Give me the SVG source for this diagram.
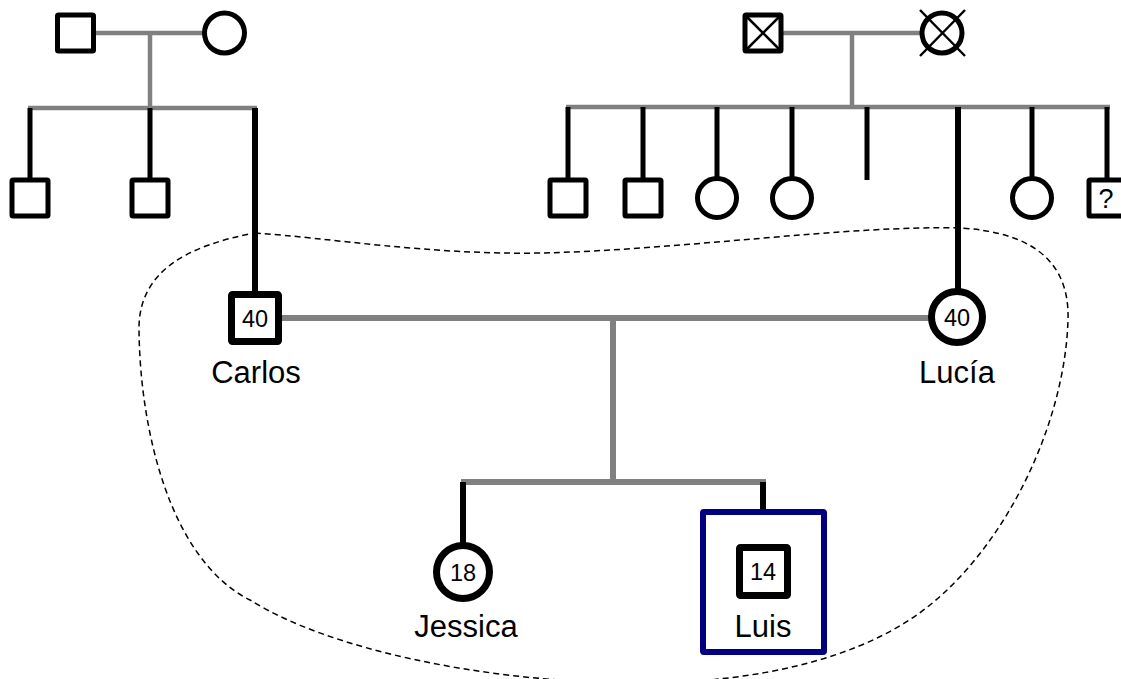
<svg xmlns="http://www.w3.org/2000/svg" width="1121" height="679" viewBox="0 0 1121 679">
<style>
.g{stroke:#808080;stroke-width:4.5;fill:none}
.g2{stroke:#808080;stroke-width:6;fill:none}
.b{stroke:#000;stroke-width:5;fill:none}
.bt{stroke:#000;stroke-width:6;fill:none}
.sym{stroke:#000;stroke-width:5;fill:#fff}
.symt{stroke:#000;stroke-width:7;fill:#fff}
.x{stroke:#000;stroke-width:2.5}
.num{font-family:"Liberation Sans",Arial,sans-serif;font-size:23.5px;fill:#000;text-anchor:middle}
.q{font-family:"Liberation Sans",Arial,sans-serif;font-size:27px;fill:#000;text-anchor:middle}
.lbl{font-family:"Liberation Sans",Arial,sans-serif;font-size:31px;fill:#000;text-anchor:middle}
</style>
<rect width="1121" height="679" fill="#fff"/>
<path id="household" d="M 255 233 C 330 238 430 255 540 253 C 680 250 850 225 960 228 C 1030 232 1070 260 1068 320 C 1065 420 1010 540 930 605 C 850 670 720 685 620 683 C 480 680 330 650 250 600 C 170 560 140 430 139 330 C 138 270 190 245 255 233 Z" fill="none" stroke="#000" stroke-width="1.5" stroke-dasharray="6,4"/>
<g id="connectors">
<line class="g" x1="94" y1="33" x2="204" y2="33"/>
<line class="g" x1="150" y1="33" x2="150" y2="108"/>
<line class="g" x1="28" y1="108" x2="257" y2="108"/>
<line class="b" x1="30" y1="108" x2="30" y2="180"/>
<line class="b" x1="150" y1="108" x2="150" y2="180"/>
<line class="bt" x1="255" y1="108" x2="255" y2="292"/>
<line class="g" x1="783" y1="33" x2="920" y2="33"/>
<line class="g" x1="852" y1="33" x2="852" y2="107"/>
<line class="g" x1="566" y1="107" x2="1110" y2="107"/>
<line class="b" x1="568" y1="107" x2="568" y2="180"/>
<line class="b" x1="643" y1="107" x2="643" y2="180"/>
<line class="b" x1="717" y1="107" x2="717" y2="180"/>
<line class="b" x1="792" y1="107" x2="792" y2="180"/>
<line class="b" x1="867" y1="107" x2="867" y2="180"/>
<line class="bt" x1="958" y1="107" x2="958" y2="290"/>
<line class="b" x1="1032" y1="107" x2="1032" y2="180"/>
<line class="b" x1="1107" y1="107" x2="1107" y2="180"/>
<line class="g2" x1="282" y1="318" x2="930" y2="318"/>
<line class="g2" x1="613" y1="318" x2="613" y2="482"/>
<line class="g2" x1="461" y1="482" x2="766" y2="482"/>
<line class="bt" x1="463" y1="482" x2="463" y2="545"/>
<line class="bt" x1="763" y1="482" x2="763" y2="514"/>
</g>
<g id="gf1"><rect class="sym" x="57.5" y="15" width="36" height="36" rx="1"/></g>
<g id="gm1"><circle class="sym" cx="224.5" cy="33" r="20"/></g>
<g id="u1"><rect class="sym" x="12" y="180" width="36" height="36" rx="1"/></g>
<g id="u2"><rect class="sym" x="132" y="180" width="36" height="36" rx="1"/></g>
<g id="gf2"><rect class="sym" x="745" y="15" width="36" height="36" rx="1"/><line class="x" x1="747" y1="17" x2="779" y2="49"/><line class="x" x1="779" y1="17" x2="747" y2="49"/></g>
<g id="gm2"><circle class="sym" cx="942" cy="33" r="20"/><line class="x" x1="920" y1="10" x2="965" y2="56"/><line class="x" x1="965" y1="10" x2="920" y2="56"/></g>
<g id="a1"><rect class="sym" x="550" y="180" width="36" height="36" rx="1"/></g>
<g id="a2"><rect class="sym" x="625" y="180" width="36" height="36" rx="1"/></g>
<g id="a3"><circle class="sym" cx="717" cy="198" r="19.5"/></g>
<g id="a4"><circle class="sym" cx="792" cy="198" r="19.5"/></g>
<g id="a5"><circle class="sym" cx="1032" cy="198" r="19.5"/></g>
<g id="a6"><rect class="sym" x="1089" y="180" width="36" height="36" rx="1"/><text class="q" x="1106" y="208">?</text></g>
<g id="carlos"><rect class="symt" x="231.5" y="294.5" width="47" height="47" rx="1"/><text class="num" x="255" y="327">40</text><text class="lbl" x="256" y="383">Carlos</text></g>
<g id="lucia"><circle class="symt" cx="957" cy="317" r="25.5"/><text class="num" x="957" y="326">40</text><text class="lbl" x="957" y="383">Lucía</text></g>
<g id="jessica"><circle class="symt" cx="463" cy="572" r="26.5"/><text class="num" x="463" y="580.5">18</text><text class="lbl" x="466" y="637">Jessica</text></g>
<g id="luis"><rect x="703" y="512" width="121" height="140" fill="none" stroke="#000080" stroke-width="6" rx="1"/><rect class="symt" x="739.5" y="547.5" width="48" height="48" rx="1"/><text class="num" x="763" y="580">14</text><text class="lbl" x="763" y="637">Luis</text></g>
</svg>
